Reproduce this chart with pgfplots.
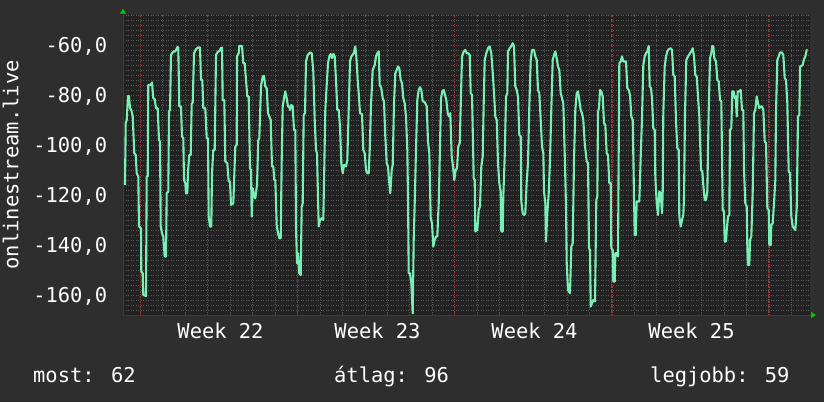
\documentclass[border=0pt]{standalone}
\usepackage{fontspec}
\setmainfont{DejaVu Sans Mono}
\usepackage{pgfplots}
\pgfplotsset{compat=1.18}
\usetikzlibrary{arrows.meta}
\definecolor{outerbg}{RGB}{46,46,46}
\definecolor{canvasbg}{RGB}{34,34,34}
\definecolor{gridminor}{RGB}{88,88,88}
\definecolor{gridmajor}{RGB}{150,56,56}
\definecolor{linec}{RGB}{120,240,180}
\definecolor{arrowc}{RGB}{0,200,0}
\definecolor{axisc}{RGB}{60,60,60}
\newcommand\F{\fontsize{20.5}{24}\selectfont}
\tikzset{majgrid/.style={gridmajor, line width=1.4bp, dash pattern=on 1.3bp off 1.2bp}}
\begin{document}
\begin{tikzpicture}[x=1bp,y=1bp]
\fill[outerbg] (0,0) rectangle (824,402);
\useasboundingbox (0,0) rectangle (824,402);
\begin{axis}[
  at={(123bp,87bp)}, anchor=south west,
  scale only axis, width=687bp, height=300.3bp,
  xmin=123, xmax=810, ymin=-167.9, ymax=-47.8,
  axis background/.style={fill=canvasbg},
  axis x line=bottom, axis y line=left,
  x axis line style={draw=axisc, line width=0.8bp, -{Triangle[length=5bp,width=6bp,color=arrowc]}, shorten >=-6bp},
  y axis line style={draw=axisc, line width=0.8bp, -{Triangle[length=5bp,width=6bp,color=arrowc]}, shorten >=-6bp},
  xtick={140.3,297.52,454.74,611.96,769.18},
  xticklabels={,,,,},
  minor xtick={162.76,185.22,207.68,230.14,252.6,275.06,319.98,342.44,364.9,387.36,409.82,432.28,477.2,499.66,522.12,544.58,567.04,589.5,634.42,656.88,679.34,701.8,724.26,746.72,791.64},
  ytick={-160,-140,...,-60},
  yticklabels={{-160,0},{-140,0},{-120,0},{-100,0},{-80,0},{-60,0}},
  minor ytick={-166,-164,-162,-158,-156,-154,-152,-150,-148,-146,-144,-142,-138,-136,-134,-132,-130,-128,-126,-124,-122,-118,-116,-114,-112,-110,-108,-106,-104,-102,-98,-96,-94,-92,-90,-88,-86,-84,-82,-78,-76,-74,-72,-70,-68,-66,-64,-62,-58,-56,-54,-52,-50,-48},
  major tick length=0pt, minor tick length=0pt,
  xmajorgrids=true, ymajorgrids=true, xminorgrids=true, yminorgrids=true,
  minor grid style={gridminor, line width=0.8bp, dash pattern=on 1bp off 1.5bp},
  major grid style={majgrid},
  yticklabel style={font=\F, color=white, anchor=base east, inner sep=0pt, xshift=-15.7bp, yshift=-7.2bp},
  extra x ticks={220.5,377.5,534.5,691.5},
  extra x tick labels={Week 22,Week 23,Week 24,Week 25},
  extra x tick style={xmajorgrids=false, xminorgrids=false, major tick length=0pt,
    xticklabel style={font=\F, color=white, anchor=base, inner sep=0pt, yshift=-23.3bp}},
  ylabel={onlinestream.live},
  every axis y label/.style={at={(axis description cs:-0.1524,0.5)}, rotate=90, anchor=base, font=\F, color=white, inner sep=0pt},
  clip=true,
]
\addplot[linec, line width=2.1bp, line join=round, mark=none] coordinates {
(125.0,-115.9) (125.7,-91.2) (126.7,-89.9) (128.0,-80.3) (129.0,-80.3) (130.0,-85.2) (131.3,-85.9) (132.7,-88.5)
(134.3,-103.2) (135.7,-103.9) (136.7,-111.2) (138.3,-112.5) (139.0,-132.5) (141.0,-133.2) (141.3,-150.5) (142.7,-151.2)
(143.3,-159.9) (146.0,-160.3) (146.7,-112.5) (147.7,-112.5) (148.3,-75.9) (150.7,-75.9) (152.0,-74.9) (153.3,-81.2)
(154.7,-81.6) (156.0,-85.2) (157.7,-85.2) (159.0,-97.9) (160.0,-98.5) (160.7,-132.5) (162.0,-135.2) (163.3,-136.5)
(164.7,-144.5) (166.0,-144.5) (166.7,-119.2) (168.3,-118.5) (169.0,-86.5) (170.0,-85.9) (171.0,-63.9) (173.3,-62.5)
(175.3,-62.5) (177.3,-60.8) (178.3,-60.8) (179.3,-84.5) (181.0,-84.5) (182.0,-96.5) (183.3,-97.2) (184.0,-113.9)
(185.3,-115.2) (186.0,-119.2) (187.3,-119.2) (188.0,-110.5) (189.3,-103.9) (190.7,-103.9) (191.7,-83.2) (192.7,-83.2)
(194.0,-63.2) (196.0,-61.6) (198.0,-60.9) (200.0,-60.9) (201.0,-73.9) (202.3,-73.9) (203.3,-85.2) (205.3,-85.2)
(206.7,-97.2) (208.0,-97.2) (208.7,-128.5) (210.0,-132.5) (211.3,-132.5) (212.0,-111.2) (213.3,-101.9) (214.7,-101.9)
(216.0,-63.9) (218.0,-62.5) (219.3,-62.5) (220.7,-61.2) (222.0,-60.9) (222.7,-82.0) (224.3,-82.0) (225.3,-106.5)
(227.3,-107.2) (228.7,-114.5) (230.0,-114.5) (231.0,-123.9) (233.3,-123.2) (235.3,-100.5) (236.7,-99.9) (237.0,-64.5)
(238.7,-63.2) (239.3,-60.3) (242.0,-60.3) (243.3,-67.2) (244.7,-67.2) (246.0,-73.9) (247.3,-80.5) (248.7,-80.5)
(250.0,-109.2) (251.0,-109.9) (251.7,-128.5) (252.7,-117.2) (254.3,-120.5) (255.3,-121.2) (257.0,-115.9) (258.3,-97.9)
(259.3,-97.2) (261.0,-76.5) (262.7,-72.5) (264.0,-72.3) (265.3,-76.5) (266.7,-77.2) (268.0,-87.2) (269.3,-88.5)
(270.7,-89.9) (272.0,-108.5) (273.3,-108.5) (274.3,-113.9) (275.3,-113.9) (276.7,-131.9) (278.0,-135.2) (279.3,-137.2)
(280.7,-137.2) (281.7,-105.9) (282.7,-84.5) (284.3,-80.5) (285.3,-78.5) (286.7,-81.2) (288.0,-84.5) (289.3,-84.5)
(290.0,-85.9) (291.3,-83.9) (292.7,-84.5) (294.0,-93.9) (295.3,-93.9) (296.0,-132.5) (297.0,-147.2) (298.0,-143.2)
(299.3,-151.2) (300.7,-151.9) (301.7,-124.5) (302.7,-123.2) (303.7,-87.9) (305.0,-87.2) (306.0,-66.5) (307.7,-63.9)
(310.0,-62.9) (311.7,-63.2) (313.3,-70.5) (314.7,-89.9) (316.0,-101.9) (317.0,-103.2) (318.7,-132.5) (320.0,-129.9)
(322.0,-129.2) (323.3,-129.9) (324.3,-108.5) (325.3,-85.9) (326.7,-75.9) (328.0,-67.2) (329.3,-64.5) (330.7,-63.5)
(332.0,-65.2) (333.3,-63.5) (334.7,-64.5) (336.0,-73.9) (337.3,-85.9) (338.7,-85.9) (340.0,-92.5) (341.3,-107.2)
(342.7,-111.2) (344.0,-107.9) (346.0,-108.5) (347.3,-105.9) (348.7,-85.9) (350.0,-66.5) (351.3,-64.5) (353.7,-63.2)
(355.3,-60.5) (356.3,-64.5) (357.7,-73.9) (358.7,-79.2) (360.0,-87.2) (362.0,-87.5) (363.3,-101.9) (364.7,-103.2)
(366.0,-109.9) (367.3,-111.2) (368.7,-111.2) (369.7,-101.9) (371.0,-83.9) (372.7,-69.9) (374.7,-67.9) (376.0,-64.5)
(377.3,-63.2) (378.7,-62.5) (379.7,-75.9) (381.3,-77.2) (382.7,-81.2) (384.0,-82.5) (385.3,-96.5) (386.7,-107.2)
(388.0,-108.5) (389.0,-113.9) (390.3,-119.2) (391.7,-109.9) (392.7,-107.9) (394.0,-83.2) (395.3,-71.2) (396.7,-69.9)
(398.0,-68.5) (399.3,-69.2) (400.7,-73.9) (402.0,-75.2) (403.3,-81.2) (404.7,-83.2) (406.0,-88.5) (407.3,-101.9)
(408.0,-120.5) (408.7,-151.2) (410.0,-151.2) (411.3,-155.2) (412.7,-167.2) (413.7,-137.9) (414.7,-123.2) (416.0,-101.9)
(417.3,-81.9) (418.7,-77.9) (420.0,-76.8) (421.3,-77.9) (422.7,-82.5) (424.0,-82.5) (425.3,-83.2) (426.7,-84.5)
(428.0,-98.5) (429.3,-103.2) (430.7,-129.2) (432.0,-131.2) (433.3,-140.5) (434.7,-137.9) (436.0,-136.5) (437.3,-136.5)
(438.7,-123.2) (439.7,-105.9) (441.0,-81.2) (442.3,-78.5) (443.7,-77.9) (445.0,-79.9) (446.3,-81.9) (447.7,-87.2)
(449.0,-88.5) (450.3,-87.2) (451.7,-104.5) (453.0,-108.5) (454.3,-113.9) (455.7,-109.9) (457.0,-109.2) (458.3,-100.5)
(459.7,-99.2) (460.7,-84.5) (462.0,-64.5) (463.7,-62.5) (465.3,-61.9) (466.7,-63.2) (468.0,-63.2) (469.7,-63.9)
(470.7,-79.2) (472.0,-79.9) (473.0,-99.2) (473.7,-113.2) (474.7,-113.9) (475.3,-134.5) (477.3,-133.9) (478.7,-125.9)
(480.0,-124.5) (481.3,-108.5) (482.7,-104.5) (483.7,-83.2) (484.7,-65.9) (486.3,-63.2) (488.0,-61.2) (489.7,-60.5)
(491.3,-63.2) (493.0,-72.5) (494.0,-79.2) (495.3,-88.5) (496.7,-89.9) (498.0,-107.2) (499.3,-115.2) (500.7,-118.5)
(501.3,-134.5) (502.7,-134.5) (503.3,-120.5) (504.7,-104.5) (506.0,-80.5) (507.3,-79.2) (508.0,-62.5) (509.7,-61.2)
(511.3,-60.3) (512.7,-59.2) (514.0,-60.5) (515.3,-76.5) (516.7,-77.9) (518.0,-80.5) (519.3,-95.9) (520.7,-96.5)
(521.3,-122.5) (522.7,-127.2) (524.0,-127.9) (525.3,-127.2) (526.7,-114.5) (528.0,-107.2) (529.3,-84.5) (530.7,-65.9)
(532.0,-61.9) (534.0,-61.9) (535.3,-64.5) (536.7,-65.9) (538.0,-77.9) (539.3,-79.2) (540.7,-89.9) (542.0,-100.5)
(543.3,-103.2) (544.0,-118.5) (545.3,-123.2) (546.0,-138.5) (547.3,-127.2) (548.7,-119.2) (550.0,-105.9) (551.3,-85.9)
(552.7,-65.9) (554.0,-63.9) (555.3,-62.5) (556.7,-65.2) (558.0,-68.5) (559.3,-69.9) (560.7,-79.2) (562.0,-81.2)
(563.3,-83.2) (564.7,-103.2) (566.0,-124.5) (566.7,-147.2) (568.0,-157.9) (570.0,-159.2) (571.3,-140.5) (572.7,-139.2)
(574.0,-105.9) (575.3,-85.9) (576.7,-79.2) (578.0,-78.5) (579.3,-81.9) (580.7,-85.9) (582.0,-87.2) (583.3,-89.9)
(584.7,-99.2) (586.7,-106.5) (588.0,-107.2) (589.0,-141.2) (590.0,-141.9) (590.7,-164.5) (592.0,-163.2) (593.3,-161.9)
(595.0,-162.5) (596.3,-121.9) (597.3,-120.5) (598.0,-86.5) (599.0,-85.2) (600.0,-77.9) (601.3,-78.5) (602.7,-80.5)
(604.0,-91.2) (605.3,-91.9) (606.7,-103.2) (608.0,-103.9) (609.3,-115.2) (610.7,-115.2) (611.3,-141.2) (612.7,-141.9)
(613.3,-154.5) (614.7,-154.5) (615.3,-143.2) (616.7,-143.2) (618.0,-144.5) (618.7,-101.9) (619.3,-67.2) (620.7,-66.5)
(622.0,-64.5) (623.3,-66.5) (626.0,-66.5) (627.3,-77.2) (628.7,-77.9) (630.0,-79.9) (631.3,-88.5) (632.7,-89.9)
(634.0,-120.5) (634.7,-135.9) (635.7,-135.9) (636.7,-122.5) (639.3,-122.5) (640.7,-104.5) (642.0,-89.2) (643.3,-67.9)
(644.7,-64.5) (646.0,-63.2) (647.3,-62.5) (648.7,-60.3) (649.7,-76.5) (651.0,-77.2) (652.0,-81.2) (653.3,-93.2)
(654.7,-93.9) (655.3,-112.5) (656.7,-123.2) (658.0,-127.9) (659.3,-118.5) (660.7,-119.2) (662.0,-127.2) (662.7,-118.5)
(663.3,-87.2) (664.7,-68.5) (666.0,-64.5) (667.3,-62.5) (668.7,-61.6) (670.7,-61.2) (672.0,-61.9) (673.3,-71.9)
(674.7,-72.5) (676.0,-90.5) (677.3,-101.2) (678.7,-101.9) (679.3,-128.5) (680.7,-132.5) (682.0,-129.9) (683.3,-127.9)
(684.0,-121.2) (685.0,-87.2) (686.3,-65.9) (688.0,-64.5) (690.0,-63.2) (691.3,-62.5) (692.7,-61.2) (694.0,-64.5)
(695.3,-71.9) (696.7,-72.5) (698.0,-80.5) (699.3,-88.5) (701.0,-109.9) (702.3,-110.5) (703.3,-115.9) (704.7,-121.9)
(706.0,-121.9) (707.3,-118.5) (708.7,-85.9) (710.0,-65.2) (711.3,-63.2) (712.3,-60.3) (713.3,-60.5) (714.3,-65.2)
(716.0,-66.5) (717.3,-73.9) (718.7,-74.5) (720.0,-81.9) (721.3,-82.5) (722.7,-125.9) (724.0,-126.5) (724.7,-138.5)
(726.0,-138.5) (726.7,-134.0) (728.0,-128.5) (729.3,-127.9) (730.0,-93.9) (731.3,-93.2) (732.3,-78.5) (733.7,-78.5)
(734.7,-81.2) (735.7,-80.5) (736.7,-88.5) (737.7,-78.5) (739.3,-78.5) (740.7,-77.9) (742.0,-85.9) (743.3,-85.9)
(744.0,-109.9) (745.3,-123.2) (746.7,-124.5) (747.3,-140.5) (748.0,-147.9) (749.3,-147.9) (750.0,-137.9) (751.3,-136.5)
(752.7,-118.5) (754.0,-87.2) (755.3,-85.9) (756.7,-80.5) (758.0,-83.2) (759.3,-85.2) (760.7,-84.5) (762.0,-84.5)
(763.3,-85.9) (764.7,-98.5) (766.0,-99.2) (767.3,-125.2) (768.7,-125.9) (769.3,-139.9) (770.7,-139.9) (771.3,-131.9)
(772.7,-131.2) (774.0,-123.2) (775.3,-113.9) (776.0,-86.5) (777.3,-65.9) (778.7,-64.5) (780.0,-62.9) (782.0,-62.9)
(783.3,-63.9) (784.7,-73.2) (786.0,-73.9) (787.3,-83.2) (788.7,-110.5) (790.0,-111.2) (791.3,-128.5) (792.7,-132.5)
(794.0,-133.2) (795.3,-133.9) (796.7,-125.2) (798.0,-88.5) (799.3,-87.9) (800.0,-68.5) (801.3,-68.3) (802.7,-67.9)
(804.0,-65.6) (805.3,-64.5) (806.7,-61.9) (807.7,-61.9)
};
\end{axis}
\node[anchor=base west, font=\F, text=white, inner sep=0pt] at (33,20) {most: 62};
\node[anchor=base west, font=\F, text=white, inner sep=0pt] at (334,20) {átlag: 96};
\node[anchor=base west, font=\F, text=white, inner sep=0pt] at (650,20) {legjobb: 59};
\end{tikzpicture}
\end{document}
